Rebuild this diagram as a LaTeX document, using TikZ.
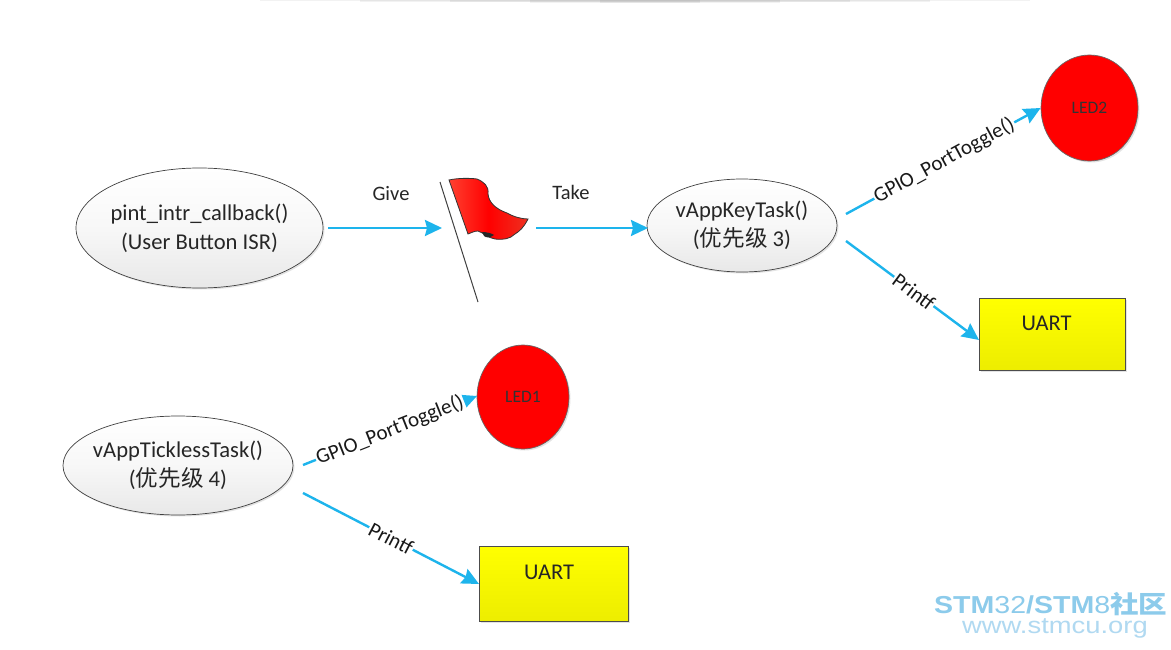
\documentclass[tikz,border=0pt]{standalone}
\usepackage{graphicx}
\usepackage{fontspec}
\setmainfont{Carlito}
\newfontfamily\cjk{Noto Sans CJK SC}
\newfontfamily\wm{Liberation Sans}
\usetikzlibrary{shapes.geometric,arrows.meta,shadows}
\definecolor{arrowblue}{HTML}{1DB4EC}
\definecolor{wmblue}{HTML}{8CCBEB}
\definecolor{wmblueb}{HTML}{B0D9F1}
\definecolor{flagl}{HTML}{FF4030}
\definecolor{flagr}{HTML}{EE3020}
\newcommand{\ellline}[1]{\makebox[100pt][c]{#1}}
\tikzset{
  x=1pt,y=-1pt,
  softshadow/.style={drop shadow={shadow xshift=1.5pt,shadow yshift=-1.5pt,opacity=.22,fill=gray}},
  taskell/.style={ellipse,draw=black!75,line width=.7pt,top color=white,bottom color=black!9,middle color=black!3,
    align=center,inner sep=0pt,font=\fontsize{22.6}{29}\selectfont,text=black!85,softshadow},
  ledcirc/.style={ellipse,draw=black!60,line width=.7pt,fill=red,inner sep=0pt,font=\fontsize{17.5}{20}\selectfont,text=black!80,softshadow},
  uartbox/.style={rectangle,draw=black!70,line width=.8pt,top color=yellow,bottom color=yellow!93!black,inner sep=0pt,softshadow},
  uarttext/.style={inner sep=0pt,font=\fontsize{22.5}{26}\selectfont,text=black!85},
  link/.style={draw=arrowblue,line width=2.4pt,-{Stealth[length=17pt,width=16pt,inset=2pt]}},
  linklabel/.style={fill=white,inner sep=1pt,text=black!90,font=\fontsize{21}{25}\selectfont},
  toplabel/.style={inner sep=0pt,text=black!85,font=\fontsize{20.5}{24}\selectfont},
  topstrip/.style={fill=black,opacity=.05},
}
\begin{document}
\begin{tikzpicture}
\useasboundingbox (0,0) rectangle (1171,650);
\fill[white] (0,0) rectangle (1171,650);
\fill[topstrip] (260,0) rectangle (1030,1.5);
\fill[topstrip] (360,0) rectangle (930,2);
\fill[topstrip] (450,0) rectangle (850,2.5);
\fill[topstrip] (530,0) rectangle (780,3);
\fill[topstrip] (600,0) rectangle (700,3);

% nodes
\node[taskell,minimum width=247pt,minimum height=120pt] (isr) at (199.5,228) {\ellline{pint\_intr\_callback()}\\\ellline{(User Button ISR)}};
\node[taskell,minimum width=190pt,minimum height=93pt] (key) at (742,225.5) {\ellline{vAppKeyTask()}\\\ellline{({\cjk 优先级} 3)}};
\node[taskell,minimum width=230pt,minimum height=99pt] (tick) at (178,465.5) {\ellline{vAppTicklessTask()}\\\ellline{({\cjk 优先级} 4)}};
\node[ledcirc,minimum width=97pt,minimum height=106pt] (led2) at (1089.5,108) {LED2};
\node[ledcirc,minimum width=92pt,minimum height=104pt] (led1) at (523,397) {LED1};
\node[uartbox,minimum width=146pt,minimum height=72pt] (uart2) at (1052,334) {};
\node[uartbox,minimum width=149pt,minimum height=75pt] (uart1) at (553.5,583.5) {};
\node[uarttext] (uart2t) at (1046.5,323) {UART};
\node[uarttext] (uart1t) at (549,572) {UART};

% semaphore bar and flag
\coordinate (barA) at (440,182);
\coordinate (barB) at (478,302);
\draw[black!75,line width=1pt] (barA) -- (barB);
\path[left color=flagl,right color=flagr,middle color=red,draw=black!80,line width=.8pt]
  (449,180) .. controls (458,178) and (470,178) .. (477,179)
  .. controls (484,182) and (489,186) .. (488,194)
  .. controls (489,203) and (496,209) .. (507,213)
  .. controls (514,217) and (522,219) .. (528,219)
  .. controls (524,227) and (520,231) .. (515,234)
  .. controls (510,239) and (503,240) .. (495,239)
  .. controls (488,238) and (484,233) .. (478,231)
  .. controls (474,231) and (471,233) .. (468,234) -- cycle;
\fill[black!85] (482,232) .. controls (486,232) and (491,233) .. (494,235) .. controls (490,238) and (486,238) .. (484,236) -- cycle;

% free ends
\coordinate (giveEnd) at (442,228);
\coordinate (giveStart) at (328,228);
\coordinate (takeStart) at (536,228);
\coordinate (takeEnd) at (648,228);
\coordinate (k1) at (846,214);
\coordinate (k2) at (846,241);
\coordinate (t1) at (303,465);
\coordinate (t2) at (303,493);
\coordinate (led2in) at (led2.west);
\coordinate (led1in) at (477,396);
\coordinate (uart2in) at (979,340);
\coordinate (uart1in) at (479,584);

% connectors
\draw[link] (giveStart) -- (giveEnd);
\draw[link] (takeStart) -- (takeEnd);
\draw[link] (k1) -- node[linklabel,sloped,pos=.505] (lab1) {GPIO\_PortToggle()} (led2in);
\draw[link] (k2) -- node[linklabel,sloped,pos=.51] (lab2) {Printf} (uart2in);
\draw[link] (t1) -- node[linklabel,sloped,pos=.50] (lab3) {GPIO\_PortToggle()} (led1in);
\draw[link] (t2) -- node[linklabel,sloped,pos=.50] (lab4) {Printf} (uart1in);

\node[toplabel] (give) at (391,194) {Give};
\node[toplabel] (take) at (571,192) {Take};

% watermark
\node[anchor=base west,inner sep=0pt,text=wmblue,font=\wm\fontsize{24.5}{28}\selectfont] (wm1) at (934,613)
  {\scalebox{1.165}[1]{\textbf{STM}32\textbf{/STM}8{\cjk\bfseries 社区}}};
\node[anchor=base west,inner sep=0pt,text=wmblueb,font=\wm\fontsize{23}{26}\selectfont] (wm2) at (962,633) {\scalebox{1.19}[1]{www.stmcu.org}};
\end{tikzpicture}
\end{document}
